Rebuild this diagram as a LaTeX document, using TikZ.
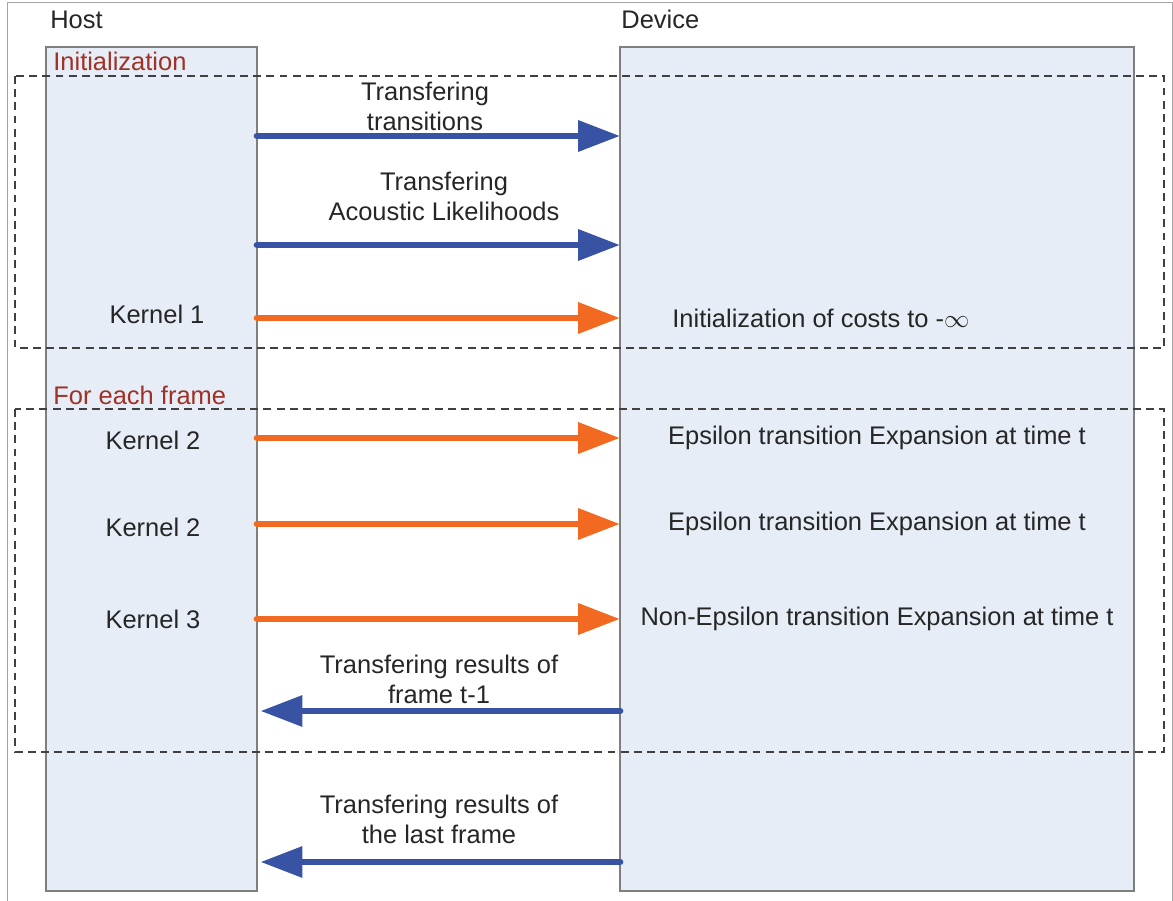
\documentclass[tikz,border=0pt]{standalone}
\usepackage{fontspec}
\setmainfont{Liberation Sans}
\usetikzlibrary{arrows.meta,positioning,calc}
\definecolor{laneFill}{HTML}{E6EDF6}
\definecolor{laneLine}{HTML}{7F7F7F}
\definecolor{xferBlue}{HTML}{3953A4}
\definecolor{kernOrange}{HTML}{F26A21}
\definecolor{phaseRed}{HTML}{9E3226}
\definecolor{dashGray}{HTML}{404040}

\begin{document}
\begin{tikzpicture}[
    x=0.02cm, y=-0.02cm,
    every node/.style={font=\fontsize{14.5}{17}\selectfont, align=center, text=black!85},
    lane/.style={draw=laneLine, thick, fill=laneFill, inner sep=0pt, outer sep=0pt, minimum height=16.88cm},
    phase/.style={draw=dashGray, line width=0.6pt, dash pattern=on 4.5pt off 3pt},
    phasename/.style={anchor=base west, inner sep=0pt, text=phaseRed},
    xfer/.style={-{Triangle[length=0.84cm, width=0.6cm]}, line width=3.8pt, line cap=round, color=xferBlue},
    kern/.style={-{Triangle[length=0.84cm, width=0.6cm]}, line width=3.8pt, line cap=round, color=kernOrange}
  ]
    \useasboundingbox (0,0) rectangle (1173,901);
    \draw[laneLine!70] (7,905) -- (7,2) -- (1172,2) -- (1172,905);

    % lanes
    \node[lane, minimum width=4.22cm] (host) at (151.5,469) {};
    \node[lane, minimum width=10.28cm] (dev) at (877,469) {};
    \node[anchor=base west, inner sep=0pt] (hostname) at (50,29) {Host};
    \node[anchor=base west, inner sep=0pt] (devname) at (621,29) {Device};

    % phases
    \draw[phase] (15,76) rectangle (1164,348);
    \draw[phase] (15,409) rectangle (1164,752);
    \node[phasename] (init) at (53,71) {Initialization};
    \node[phasename] (frame) at (53,405) {For each frame};

    % rows
    \coordinate (r1) at (0,136);
    \coordinate (r2) at (0,245);
    \node (k1) at (157,314) {Kernel 1};
    \node (k2a) at (153,440) {Kernel 2};
    \node (k2b) at (153,527) {Kernel 2};
    \node (k3) at (153,619) {Kernel 3};
    \coordinate (r7) at (0,711);
    \coordinate (r8) at (0,862);

    \node (t1) at (425,106) {Transfering\\transitions};
    \node (t2) at (444,196) {Transfering\\Acoustic Likelihoods};
    \node[anchor=west, inner sep=0pt] (d1) at (672,318) {Initialization of costs to -$\infty$};
    \node (d2) at (877,438) {Epsilon transition Expansion at time t};
    \node (d3) at (877,524) {Epsilon transition Expansion at time t};
    \node (d4) at (877,619) {Non-Epsilon transition Expansion at time t};
    \node (t7) at (439,679) {Transfering results of\\frame t-1};
    \node (t8) at (439,819) {Transfering results of\\the last frame};

    \draw[xfer] (host.east |- r1) -- (dev.west |- r1);
    \draw[xfer] (host.east |- r2) -- (dev.west |- r2);
    \draw[kern] (host.east |- d1) -- (dev.west |- d1);
    \draw[kern] (host.east |- d2) -- (dev.west |- d2);
    \draw[kern] (host.east |- d3) -- (dev.west |- d3);
    \draw[kern] (host.east |- d4) -- (dev.west |- d4);
    \draw[xfer] (dev.west |- r7) -- ([xshift=2pt]host.east |- r7);
    \draw[xfer] (dev.west |- r8) -- ([xshift=2pt]host.east |- r8);
  \end{tikzpicture}
\end{document}
